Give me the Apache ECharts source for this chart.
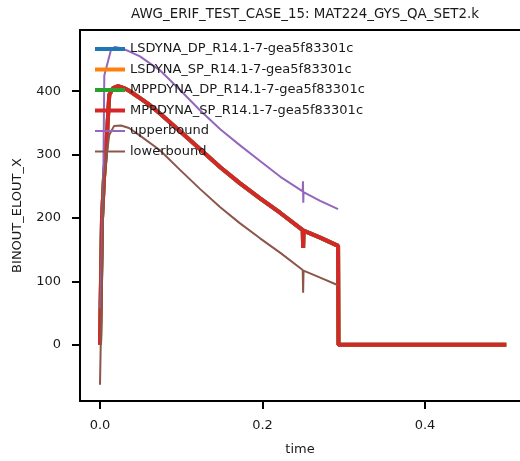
<!DOCTYPE html>
<html>
<head>
<meta charset="utf-8">
<script src="https://cdn.jsdelivr.net/npm/echarts@6/dist/echarts.min.js"></script>
<style>
  html, body { margin: 0; padding: 0; background: #fff; }
  #chart { width: 520px; height: 461px; }
</style>
</head>
<body>
<div id="chart"></div>
<script>
// values
const seriesNames = [
  "LSDYNA_DP_R14.1-7-gea5f83301c",
  "LSDYNA_SP_R14.1-7-gea5f83301c",
  "MPPDYNA_DP_R14.1-7-gea5f83301c",
  "MPPDYNA_SP_R14.1-7-gea5f83301c",
  "upperbound",
  "lowerbound",
];
const colors = ["#1f77b4", "#ff7f0e", "#2ca02c", "#d62728", "#9467bd", "#8c564b"];

// the four runs lie on top of each other
const timeMain = [0, 0.0025, 0.005, 0.0074, 0.0114, 0.016, 0.0222, 0.0295, 0.0369, 0.0492, 0.0615,
  0.0738, 0.0985, 0.123, 0.148, 0.172, 0.197, 0.222, 0.2495, 0.25, 0.2505, 0.271, 0.293, 0.2935, 0.5];
const valMain = [0, 200, 265, 305, 394, 405, 408, 405, 400, 389, 378,
  365, 337, 309, 280, 255, 231, 208, 181, 153, 180, 169, 156, 0, 0];

const timeUpper = [0, 0.0006, 0.0041, 0.0053, 0.0135, 0.0185, 0.026, 0.0357, 0.0492, 0.0738, 0.0985,
  0.123, 0.148, 0.172, 0.197, 0.222, 0.2495, 0.2498, 0.2502, 0.2505, 0.271, 0.293];
const valUpper = [62, 58, 263, 425, 465, 470, 468, 463, 455, 433, 402,
  370, 340, 315, 290, 265, 242, 258, 224, 241, 227, 214];

const timeLower = [0, 0.0046, 0.0114, 0.0172, 0.0258, 0.0357, 0.0492, 0.0738, 0.0985, 0.123, 0.148,
  0.172, 0.197, 0.222, 0.2495, 0.25, 0.2505, 0.271, 0.293];
const valLower = [-63, 263, 331, 345, 346, 342, 330, 307, 276, 246, 217,
  192, 168, 145, 118, 82, 117, 106, 94];

const xTicks = [0, 0.2, 0.4];
const yTicks = [0, 100, 200, 300, 400];

const pairs = (ts, vs) => ts.map((t, i) => [t, vs[i]]);

const chart = echarts.init(document.getElementById("chart"));

const font = "DejaVu Sans";
const ink = "#1a1a1a";

// legend handles: a flat bar, the extra moveTo points keep the box 30x14
const thickIcon = "path://M0,0M30,14M0,5H30V9H0Z";
const thinIcon = "path://M0,0M30,14M0,6H30V8H0Z";

const series = seriesNames.map((name, i) => {
  let data;
  if (i < 4) data = pairs(timeMain, valMain);
  else if (i === 4) data = pairs(timeUpper, valUpper);
  else data = pairs(timeLower, valLower);
  return {
    name: name,
    type: "line",
    data: data,
    symbol: "none",
    color: colors[i],
    lineStyle: { width: i < 4 ? 4 : 2, color: colors[i] },
  };
});

// the axes box runs past the right edge of the picture, so the visible
// part stops at 0.517 with 0.2 = 162.5 px
const xRange = { min: -0.0246, max: 0.5169 };

chart.setOption({
  animation: false,
  title: {
    text: "AWG_ERIF_TEST_CASE_15: MAT224_GYS_QA_SET2.k",
    left: 300,
    top: 3,
    textAlign: "center",
    textStyle: { fontFamily: font, fontSize: 13.4, fontWeight: "normal", color: ink },
  },
  legend: {
    orient: "vertical",
    left: 90,
    top: 37,
    itemWidth: 30,
    itemHeight: 14,
    itemGap: 6.5,
    textStyle: { fontFamily: font, fontSize: 13, color: ink },
    data: seriesNames.map((n, i) => ({ name: n, icon: i < 4 ? thickIcon : thinIcon })),
  },
  grid: {
    left: 80,
    top: 30,
    right: 0,
    bottom: 58,
  },
  xAxis: [
    {
      type: "value",
      min: xRange.min,
      max: xRange.max,
      name: "time",
      nameLocation: "middle",
      nameGap: 42,
      nameTextStyle: { fontFamily: font, fontSize: 13, color: ink },
      axisLine: { show: true, onZero: false, lineStyle: { color: "#000", width: 2 } },
      axisTick: { show: true, length: 8, customValues: xTicks, lineStyle: { color: "#000", width: 2 } },
      axisLabel: {
        customValues: xTicks,
        margin: 18,
        fontFamily: font,
        fontSize: 13,
        color: ink,
        formatter: (v) => v.toFixed(1),
      },
      splitLine: { show: false },
    },
    {
      // top spine only
      type: "value",
      position: "top",
      min: xRange.min,
      max: xRange.max,
      axisLine: { show: true, onZero: false, lineStyle: { color: "#000", width: 2 } },
      axisTick: { show: false },
      axisLabel: { show: false },
      splitLine: { show: false },
    },
  ],
  yAxis: {
    type: "value",
    min: -88.6,
    max: 496.6,
    name: "BINOUT_ELOUT_X",
    nameLocation: "middle",
    nameGap: 56,
    nameTextStyle: { fontFamily: font, fontSize: 13, color: ink },
    axisLine: { show: true, onZero: false, lineStyle: { color: "#000", width: 2 } },
    axisTick: { show: true, length: 8, customValues: yTicks, lineStyle: { color: "#000", width: 2 } },
    axisLabel: {
      customValues: yTicks,
      margin: 19,
      fontFamily: font,
      fontSize: 13,
      color: ink,
    },
    splitLine: { show: false },
  },
  series: series,
});
</script>
</body>
</html>
